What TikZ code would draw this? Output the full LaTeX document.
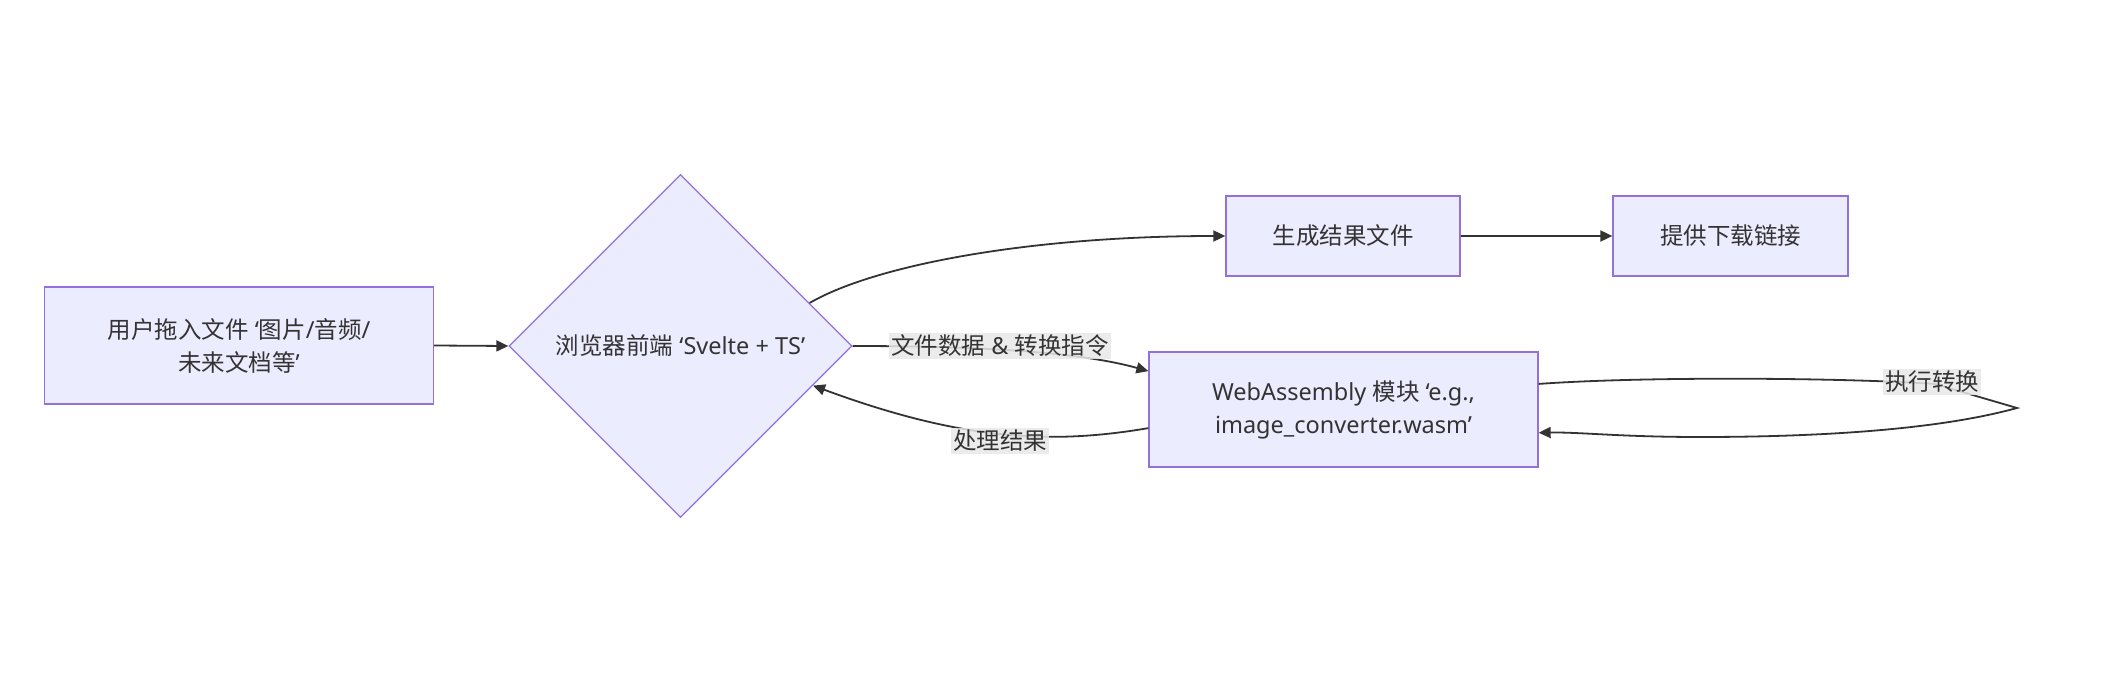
\documentclass[tikz,border=0pt]{standalone}
\usepackage{fontspec}
\setmainfont{Noto Sans}
\newfontfamily\cjkf{Noto Sans CJK SC}
\newcommand\zhs[1]{{\cjkf #1}}
\usetikzlibrary{shapes.geometric,arrows.meta,calc}
\definecolor{nodefill}{HTML}{ECECFF}
\definecolor{nodeline}{HTML}{9370DB}
\definecolor{edgecol}{HTML}{333333}
\definecolor{lblbg}{HTML}{E8E8E8}
\begin{document}
\begin{tikzpicture}[x=1pt,y=-1pt,
  every node/.style={font=\fontsize{23.5}{33}\selectfont, text=edgecol},
  box/.style={draw=nodeline, fill=nodefill, line width=1.3pt, inner sep=0pt, align=center},
  diab/.style={box, diamond},
  edge/.style={draw=edgecol, line width=1.8pt, -{Triangle[length=12pt,width=11pt]}},
  lbl/.style={fill=lblbg, fill opacity=0.85, text opacity=1, inner sep=2pt}
]
\useasboundingbox (0,0) rectangle (2104,684);
\node[box, minimum width=389pt, minimum height=117pt] (a) at (239,345.5)
  {\zhs{用户拖入文件} ‘\zhs{图片}/\zhs{音频}/\\\zhs{未来文档等}’};
\node[diab, minimum width=343pt, minimum height=343pt] (dia) at (680.5,346)
  {\zhs{浏览器前端} ‘Svelte + TS’};
\node[box, minimum width=234pt, minimum height=80pt] (gen) at (1343,236) {\zhs{生成结果文件}};
\node[box, minimum width=235pt, minimum height=80pt] (dl) at (1730.5,236) {\zhs{提供下载链接}};
\node[box, minimum width=389pt, minimum height=115pt] (wasm) at (1343.5,409.5)
  {WebAssembly \zhs{模块} ‘e.g.,\\image\_converter.wasm’};
\coordinate (loopapex) at (2017,408);

\draw[edge] (a.east) -- (dia.west);
\draw[edge] ($(dia.east)!0.25!(dia.north)$) .. controls (875,265) and (1030,236) .. (gen.west);
\draw[edge] (gen.east) -- (dl.west);
\draw[edge] (dia.east) .. controls (980,346) and (1080,352) .. ($(wasm.north west)!0.17!(wasm.south west)$);
\draw[edge] ($(wasm.north west)!0.66!(wasm.south west)$) .. controls (1050,445) and (960,440) .. ($(dia.east)!0.23!(dia.south)$);
\draw[edge] ($(wasm.north east)!0.28!(wasm.south east)$) .. controls (1650,376) and (1850,378) .. (1935,384)
  -- (loopapex) .. controls (1930,432) and (1800,437) .. (1700,437)
  .. controls (1620,437) and (1580,432) .. ($(wasm.north east)!0.7!(wasm.south east)$);

\node[lbl] (l1) at (1000,346) {\zhs{文件数据} \& \zhs{转换指令}};
\node[lbl] (l2) at (1000,441) {\zhs{处理结果}};
\node[lbl] (l3) at (1932,382) {\zhs{执行转换}};
\end{tikzpicture}
\end{document}
